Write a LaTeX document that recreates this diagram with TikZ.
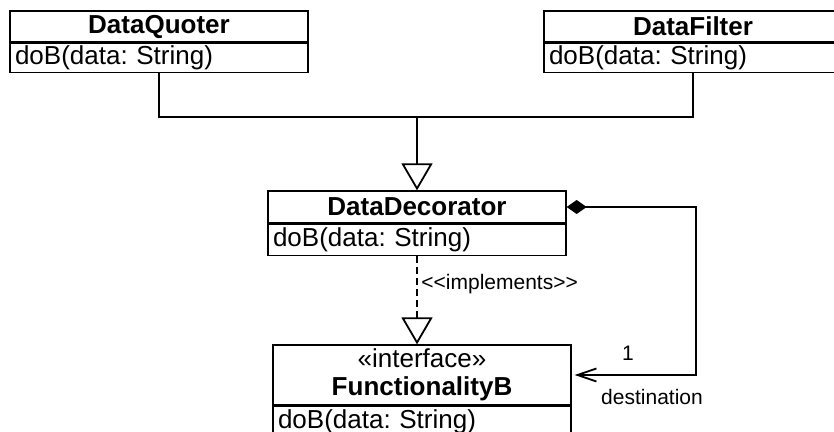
\documentclass[tikz,border=0pt]{standalone}
\usepackage{fontspec}
\setmainfont{Liberation Sans}
\usepackage{tikz}
\usetikzlibrary{positioning,arrows.meta}
\frenchspacing

\begin{document}
\begin{tikzpicture}[
    x=0.5pt, y=-0.5pt,
    classhead/.style={draw, line width=0.65pt, minimum width=149pt, minimum height=15.5pt, inner sep=0pt, align=center, font=\bfseries\fontsize{13}{15}\selectfont},
    classops/.style={draw, line width=0.65pt, minimum width=149pt, text width=144pt, minimum height=14.5pt, inner xsep=2.5pt, inner ysep=0pt, align=left, font=\fontsize{13}{15}\selectfont},
    gen/.style={-{Triangle[open, length=13.5pt, width=15.5pt, fill=white]}, line width=0.9pt},
    real/.style={gen, dash pattern=on 3.5pt off 2pt},
    comp/.style={{Diamond[length=10pt, width=7pt]}-{Straight Barb[length=9.5pt, width=6.5pt]}, line width=0.9pt, shorten >=1.5pt},
    label/.style={font=\fontsize{10.5}{12}\selectfont, inner sep=0pt}
]
\useasboundingbox (0,0) rectangle (834,432);

% DataQuoter
\node[classhead] (quoter) at (159,26.5) {DataQuoter};
\node[classops, below=0pt of quoter] (quoterops) {doB(data: String)};

% DataFilter
\node[classhead] (filter) at (693,26.5) {DataFilter};
\node[classops, below=0pt of filter] (filterops) {doB(data: String)};

% DataDecorator
\node[classhead, minimum height=16pt] (decor) at (417,207) {DataDecorator};
\node[classops, minimum height=15.5pt, below=0pt of decor] (decorops) {doB(data: String)};

% FunctionalityB
\node[classhead, minimum height=30pt, font=\fontsize{13}{14}\selectfont] (func) at (422,375) {«interface»\\\textbf{FunctionalityB}};
\node[classops, minimum height=15.5pt, below=0pt of func] (funcops) {doB(data: String)};

% Inheritance
\coordinate (join) at (417,117);
\draw[line width=0.9pt] (quoterops.south) |- (join);
\draw[line width=0.9pt] (filterops.south) |- (join);
\draw[gen] (join) -- (decor.north);

% Implements
\draw[real] (decorops.south) -- (decorops.south |- func.north);
\node[label, anchor=west] (impl) at (421,284) {<{}<implements>{}>};

% Composition
\coordinate (turn) at (696,290);
\draw[comp] (decor.east) -| (turn) |- (func.east);
\node[label] (mult) at (628,353) {1};
\node[label] (role) at (652,397) {destination};

\end{tikzpicture}
\end{document}
